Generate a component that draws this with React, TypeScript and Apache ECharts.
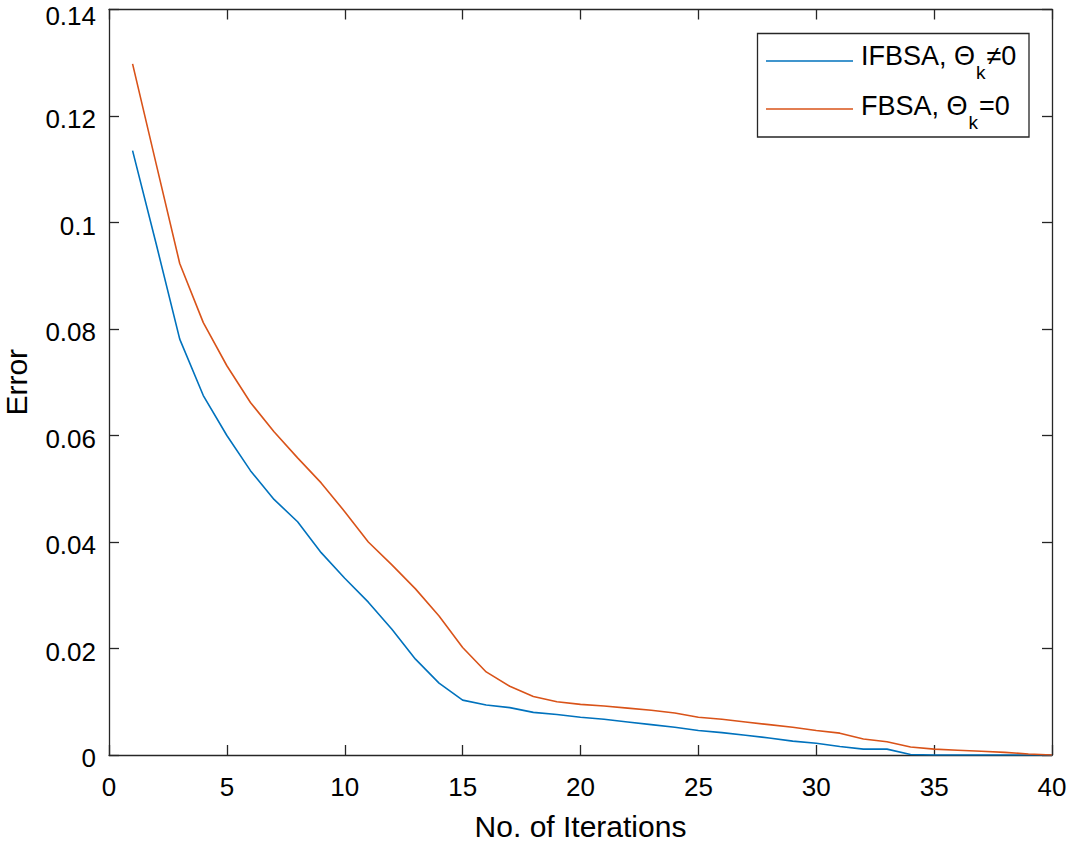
import React, { useEffect, useRef } from "react";
import * as echarts from "echarts";

const iterations: number[] = Array.from({ length: 40 }, (_, i) => i + 1);

const ifbsa: number[] = [
  0.1135, 0.0960, 0.0781, 0.0675, 0.0600, 0.0534, 0.0480, 0.0438, 0.0380, 0.0332,
  0.0287, 0.0236, 0.0180, 0.0135, 0.0103, 0.0094, 0.0089, 0.0080, 0.0076, 0.0071,
  0.0067, 0.0062, 0.0057, 0.0052, 0.0046, 0.0042, 0.0037, 0.0032, 0.0026, 0.0022,
  0.0016, 0.0011, 0.0011, 0.0001, 0.0, 0.0, 0.0, 0.0, 0.0, 0.0,
];

const fbsa: number[] = [
  0.1298, 0.1110, 0.0923, 0.0812, 0.0731, 0.0662, 0.0607, 0.0558, 0.0511, 0.0457,
  0.0400, 0.0357, 0.0312, 0.0261, 0.0202, 0.0156, 0.0129, 0.0110, 0.0100, 0.0095,
  0.0092, 0.0088, 0.0084, 0.0079, 0.0071, 0.0067, 0.0062, 0.0057, 0.0052, 0.0046,
  0.0041, 0.0030, 0.0025, 0.0015, 0.0011, 0.0009, 0.0007, 0.0005, 0.0002, 0.0,
];

const seriesNames: string[] = ["IFBSA", "FBSA"];
const legendLabels: string[] = ["{p|IFBSA, Θ}{s|k}{a|≠0}", "{p|FBSA, Θ}{s|k}{a|=0}"];
const seriesColors: string[] = ["#0072BD", "#D95319"];

const FONT = "'Liberation Sans', Arial, Helvetica, sans-serif";
const AX = "#262626";
const Y_MAX = 0.14;

export default function App() {
  const ref = useRef<HTMLDivElement>(null);
  useEffect(() => {
    if (!ref.current) return;
    const chart = echarts.init(ref.current, null, { renderer: "svg" });
    const axisCommon = {
      axisLine: { show: true, onZero: false, lineStyle: { color: AX, width: 1.3 } },
      axisTick: { show: true, inside: true, length: 10, lineStyle: { color: AX, width: 1.3 } },
      splitLine: { show: false },
    };
    const rich = {
      p: { fontSize: 27, lineHeight: 30, fontFamily: FONT, fill: "#000", color: "#000", verticalAlign: "top" },
      a: { fontSize: 27, lineHeight: 30, fontFamily: FONT, fill: "#000", color: "#000", verticalAlign: "top" },
      s: { fontSize: 19, lineHeight: 20, fontFamily: FONT, fill: "#000", color: "#000", verticalAlign: "top", padding: [21, 1, 0, 1] },
    };
    const legendRowLine = [61, 109];
    const legendRowText = [42, 92];
    const legendGraphics: any[] = [
      {
        type: "rect",
        shape: { x: 757.5, y: 33.5, width: 271.5, height: 103.5 },
        style: { fill: "#fff", stroke: AX, lineWidth: 1.3 },
        z: 10,
      },
    ];
    seriesNames.forEach((_, i) => {
      legendGraphics.push({
        type: "line",
        shape: { x1: 766, y1: legendRowLine[i], x2: 853, y2: legendRowLine[i] },
        style: { stroke: seriesColors[i], lineWidth: 1.6 },
        z: 11,
      });
      legendGraphics.push({
        type: "text",
        x: 861,
        y: legendRowText[i],
        style: {
          text: legendLabels[i],
          fontSize: 27,
          fontFamily: FONT,
          fill: "#000",
          verticalAlign: "top",
          align: "left",
          rich,
        },
        z: 11,
      });
    });
    chart.setOption({
      animation: false,
      backgroundColor: "#ffffff",
      textStyle: { fontFamily: FONT },
      grid: { left: 109, right: 17, top: 9.5, bottom: 86, containLabel: false, outerBoundsMode: "none" },
      graphic: legendGraphics,
      xAxis: [
        {
          type: "value",
          min: 0,
          max: 40,
          interval: 5,
          position: "bottom",
          name: "No. of Iterations",
          nameLocation: "middle",
          nameGap: 58,
          nameTextStyle: { fontSize: 30, lineHeight: 26, color: "#000", fontFamily: FONT },
          axisLabel: { fontSize: 26, color: "#000", margin: 19, fontFamily: FONT },
          ...axisCommon,
        },
        {
          type: "value",
          min: 0,
          max: 40,
          interval: 5,
          position: "top",
          axisLabel: { show: false },
          ...axisCommon,
        },
      ],
      yAxis: [
        {
          type: "value",
          min: 0,
          max: Y_MAX,
          interval: 0.02,
          position: "left",
          name: "Error",
          nameLocation: "middle",
          nameGap: 80,
          nameTextStyle: { fontSize: 30, lineHeight: 26, color: "#000", fontFamily: FONT },
          axisLabel: {
            fontSize: 26,
            lineHeight: 22,
            color: "#000",
            margin: 13,
            padding: [6, 0, 0, 0],
            fontFamily: FONT,
            formatter: (v: number) => {
              const s = String(+v.toFixed(2));
              return Math.abs(v - Y_MAX) < 1e-9 ? `{t|${s}}` : s;
            },
            rich: {
              t: { fontSize: 26, lineHeight: 22, color: "#000", fontFamily: FONT, padding: [6, 0, 0, 0] },
            },
          },
          ...axisCommon,
        },
        {
          type: "value",
          min: 0,
          max: Y_MAX,
          interval: 0.02,
          position: "right",
          axisLabel: { show: false },
          ...axisCommon,
        },
      ],
      series: [
        {
          name: seriesNames[0],
          type: "line",
          data: iterations.map((x, i) => [x, ifbsa[i]]),
          symbol: "none",
          lineStyle: { color: seriesColors[0], width: 1.6 },
          itemStyle: { color: seriesColors[0] },
        },
        {
          name: seriesNames[1],
          type: "line",
          data: iterations.map((x, i) => [x, fbsa[i]]),
          symbol: "none",
          lineStyle: { color: seriesColors[1], width: 1.6 },
          itemStyle: { color: seriesColors[1] },
        },
      ],
    });
    return () => chart.dispose();
  }, []);
  return (
    <div
      ref={ref}
      style={{ position: "fixed", left: 0, top: 0, width: 1069, height: 841, background: "#fff" }}
    />
  );
}
